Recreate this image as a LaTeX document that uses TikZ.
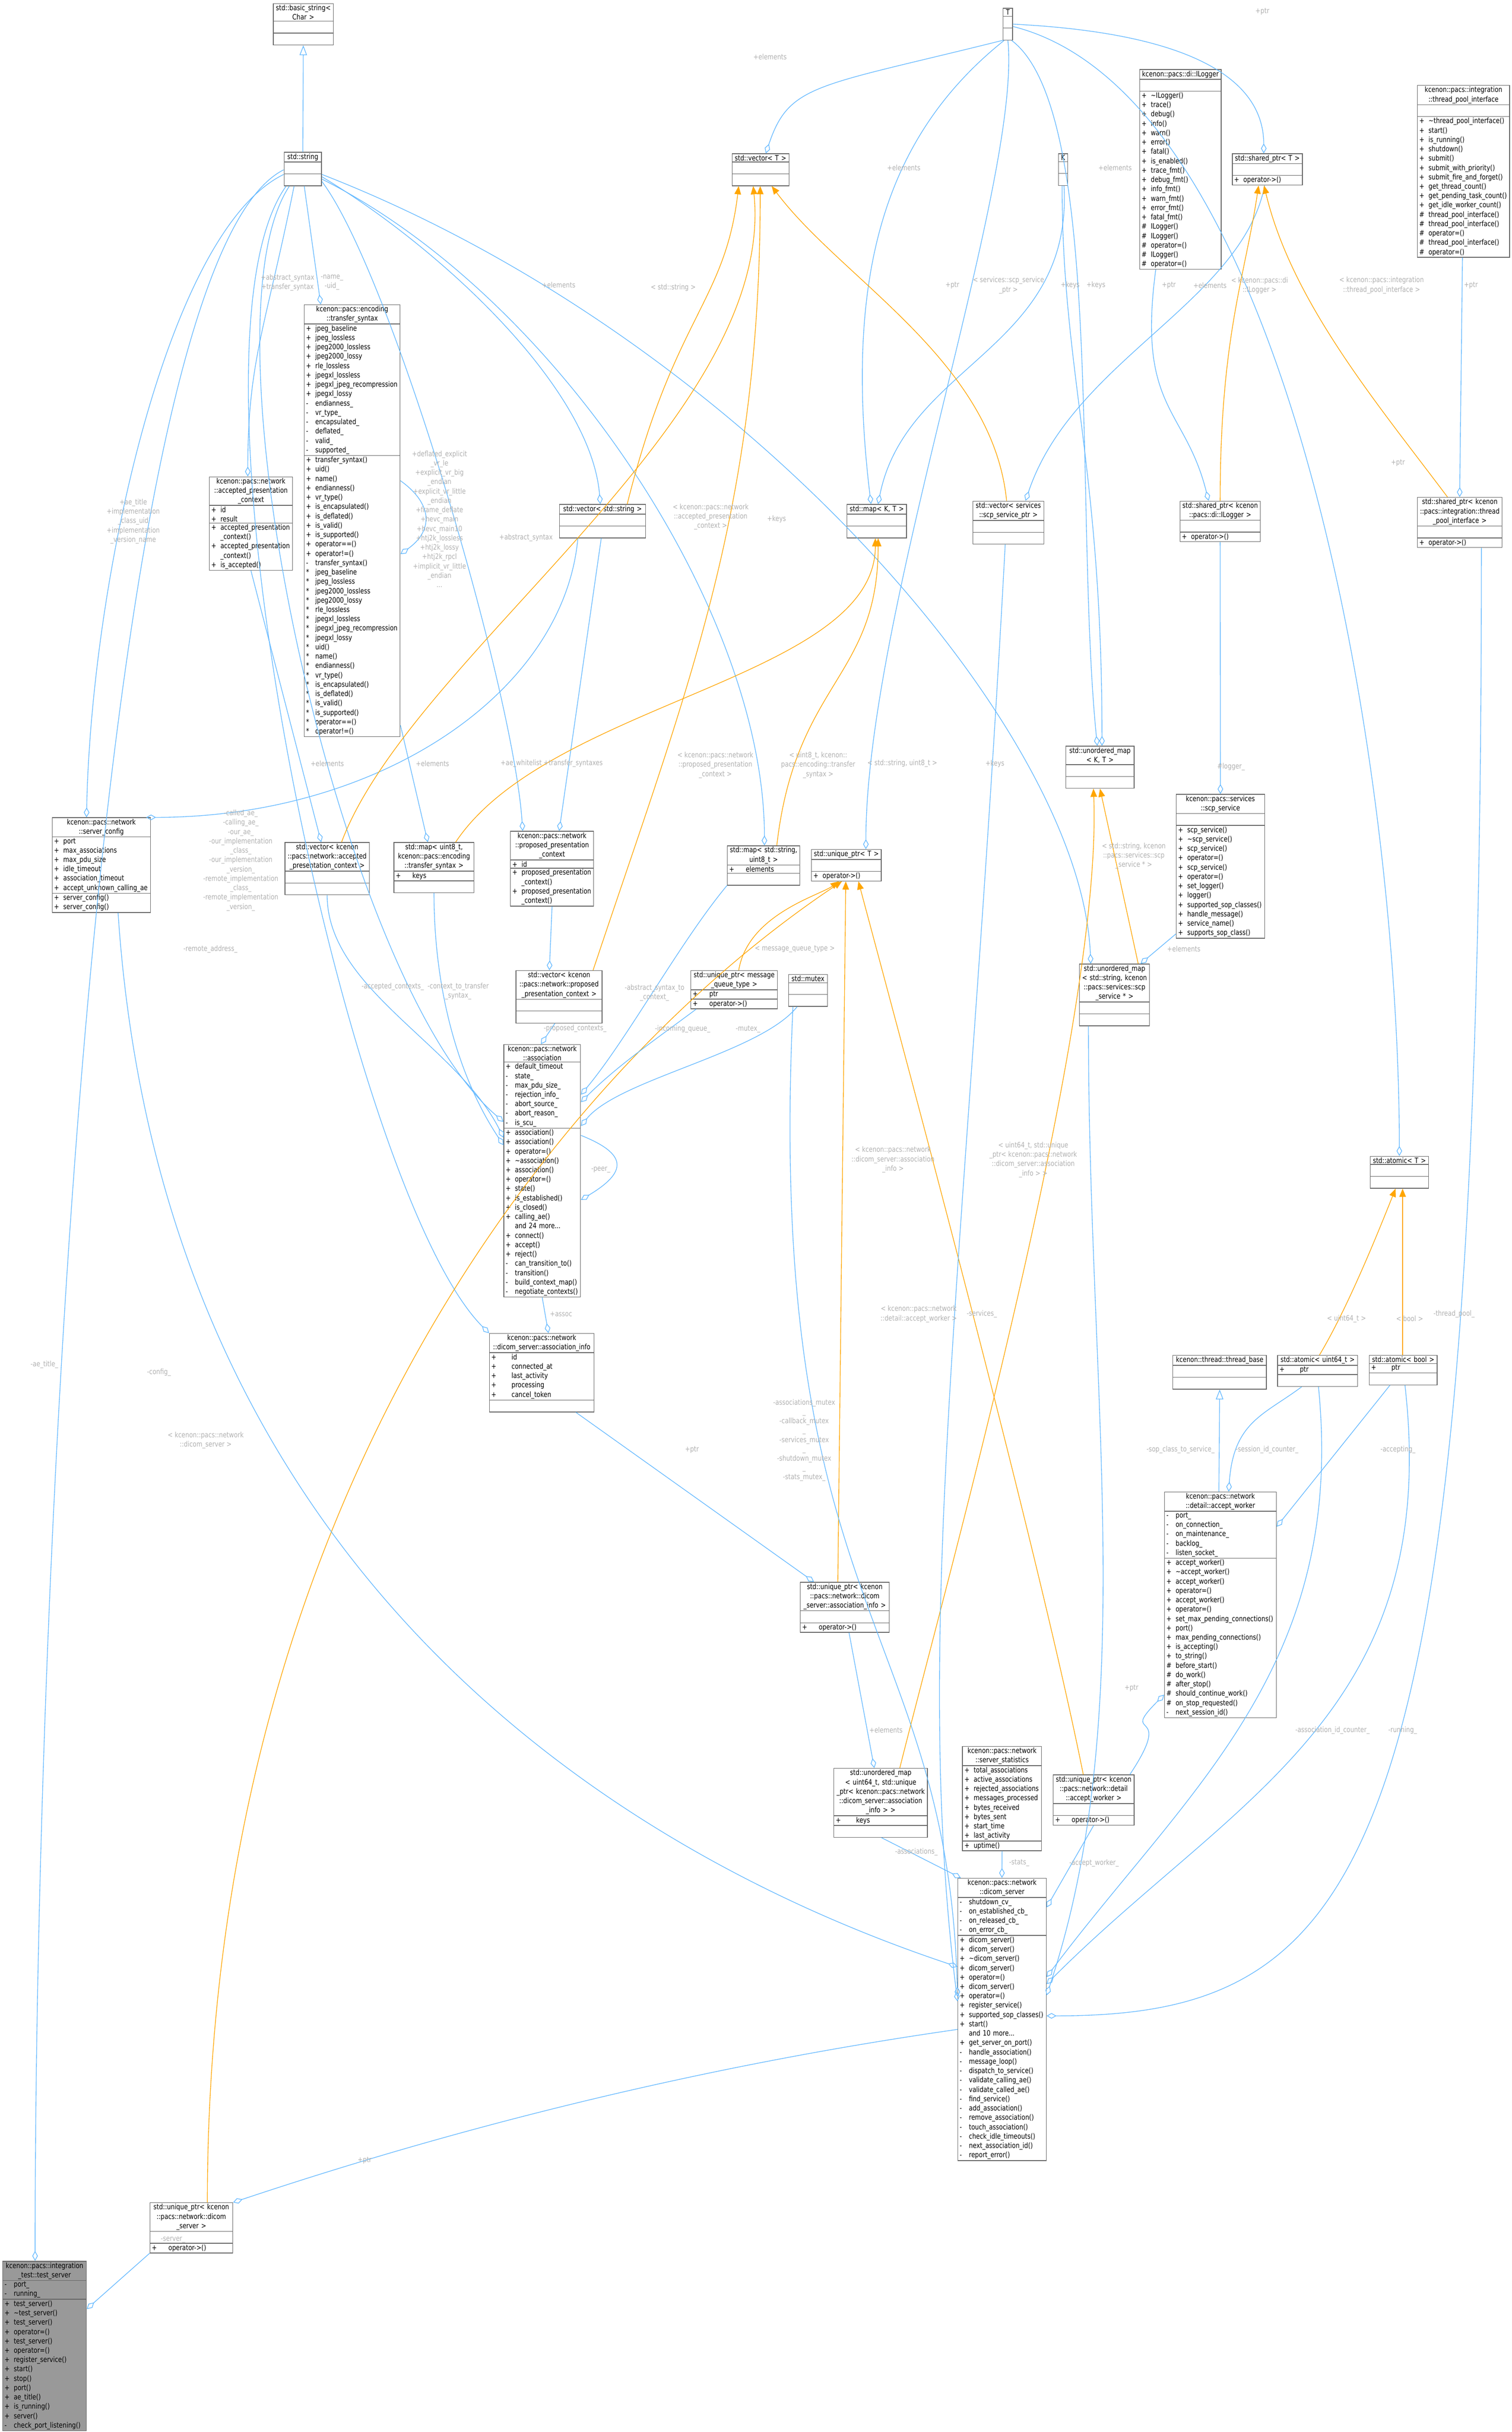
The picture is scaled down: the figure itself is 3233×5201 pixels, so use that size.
\documentclass[tikz,border=0pt]{standalone}
\usepackage{fontspec}
\setmainfont{DejaVu Sans}[FakeStretch=0.82]
\usetikzlibrary{shapes.multipart,arrows.meta,calc}
\definecolor{linkblue}{HTML}{63B8FF}
\definecolor{tmplorange}{HTML}{FFA500}
\definecolor{boxgray}{HTML}{666666}
\definecolor{lblgray}{HTML}{B0B0B0}
\definecolor{curfill}{HTML}{999999}
\newcommand\cfont{\fontsize{4.5}{5.69}\selectfont}
\newcommand\ttl[1]{{\centering #1\par}}
\newcommand\rw[2]{\makebox[1.25em][l]{#1}#2\par}
\newcommand\emp{\strut}
\tikzset{
  cls/.style={rectangle split, rectangle split parts=3, draw=boxgray, fill=white,
    anchor=north west, inner xsep=0.04cm, inner ysep=0.02cm, font=\cfont, line width=0.4pt},
  agg/.style={draw=linkblue, line width=0.4pt, -{Diamond[open,length=6pt,width=3.4pt]}},
  tmpl/.style={draw=tmplorange, line width=0.4pt, -{Triangle[length=5pt,width=4pt]}},
  inh/.style={draw=linkblue, line width=0.4pt, -{Triangle[open,length=6pt,width=4.5pt]}},
  lbl/.style={text=lblgray, font=\cfont, align=center, inner sep=0pt},
}
\begin{document}
\catcode`\_=12
\begin{tikzpicture}[x=0.01cm,y=-0.01cm]
\useasboundingbox (0,0) rectangle (3233,5201);

% classes
\node[cls, text width=1.20cm] (basicstr) at (584,7) {\ttl{std::basic_string<\\Char >}\nodepart{second}\emp\nodepart{third}\emp};
\node[cls, text width=0.72cm] (str) at (607,325) {\ttl{std::string}\nodepart{second}\emp\nodepart{third}\emp};
\node[cls, text width=0.14cm, inner xsep=0.03cm] (tT) at (2145,17) {\ttl{T}\nodepart{second}\emp\nodepart{third}\emp};
\node[cls, text width=0.14cm, inner xsep=0.03cm] (kK) at (2263,328) {\ttl{K}\nodepart{second}\emp\nodepart{third}\emp};
\node[cls, text width=1.14cm] (vecT) at (1565,328) {\ttl{std::vector< T >}\nodepart{second}\emp\nodepart{third}\emp};
\node[cls, text width=1.66cm] (ilogger) at (2437,148) {\ttl{kcenon::pacs::di::ILogger}\nodepart{second}\emp\nodepart{third}
  \rw{+}{\textasciitilde ILogger()}\rw{+}{trace()}\rw{+}{debug()}\rw{+}{info()}\rw{+}{warn()}\rw{+}{error()}\rw{+}{fatal()}
  \rw{+}{is_enabled()}\rw{+}{trace_fmt()}\rw{+}{debug_fmt()}\rw{+}{info_fmt()}\rw{+}{warn_fmt()}\rw{+}{error_fmt()}\rw{+}{fatal_fmt()}
  \rw{\#}{ILogger()}\rw{\#}{ILogger()}\rw{\#}{operator=()}\rw{\#}{ILogger()}\rw{\#}{operator=()}};
\node[cls, text width=1.42cm] (spT) at (2635,328) {\ttl{std::shared_ptr< T >}\nodepart{second}\emp\nodepart{third}\rw{+}{operator->()}};
\node[cls, text width=1.89cm] (tpi) at (3031,182) {\ttl{kcenon::pacs::integration\\::thread_pool_interface}\nodepart{second}\emp\nodepart{third}
  \rw{+}{\textasciitilde thread_pool_interface()}\rw{+}{start()}\rw{+}{is_running()}\rw{+}{shutdown()}\rw{+}{submit()}
  \rw{+}{submit_with_priority()}\rw{+}{submit_fire_and_forget()}\rw{+}{get_thread_count()}\rw{+}{get_pending_task_count()}
  \rw{+}{get_idle_worker_count()}\rw{\#}{thread_pool_interface()}\rw{\#}{thread_pool_interface()}\rw{\#}{operator=()}
  \rw{\#}{thread_pool_interface()}\rw{\#}{operator=()}};
\node[cls, text width=1.97cm] (tsyn) at (650,651) {\ttl{kcenon::pacs::encoding\\::transfer_syntax}\nodepart{second}
  \rw{+}{jpeg_baseline}\rw{+}{jpeg_lossless}\rw{+}{jpeg2000_lossless}\rw{+}{jpeg2000_lossy}\rw{+}{rle_lossless}
  \rw{+}{jpegxl_lossless}\rw{+}{jpegxl_jpeg_recompression}\rw{+}{jpegxl_lossy}\rw{-}{endianness_}\rw{-}{vr_type_}
  \rw{-}{encapsulated_}\rw{-}{deflated_}\rw{-}{valid_}\rw{-}{supported_}\nodepart{third}
  \rw{+}{transfer_syntax()}\rw{+}{uid()}\rw{+}{name()}\rw{+}{endianness()}\rw{+}{vr_type()}\rw{+}{is_encapsulated()}
  \rw{+}{is_deflated()}\rw{+}{is_valid()}\rw{+}{is_supported()}\rw{+}{operator==()}\rw{+}{operator!=()}\rw{-}{transfer_syntax()}
  \rw{*}{jpeg_baseline}\rw{*}{jpeg_lossless}\rw{*}{jpeg2000_lossless}\rw{*}{jpeg2000_lossy}\rw{*}{rle_lossless}
  \rw{*}{jpegxl_lossless}\rw{*}{jpegxl_jpeg_recompression}\rw{*}{jpegxl_lossy}\rw{*}{uid()}\rw{*}{name()}\rw{*}{endianness()}
  \rw{*}{vr_type()}\rw{*}{is_encapsulated()}\rw{*}{is_deflated()}\rw{*}{is_valid()}\rw{*}{is_supported()}\rw{*}{operator==()}\rw{*}{operator!=()}};
\node[cls, text width=1.70cm] (accpc) at (447,1019) {\ttl{kcenon::pacs::network\\::accepted_presentation\\_context}\nodepart{second}
  \rw{+}{id}\rw{+}{result}\nodepart{third}\rw{+}{accepted_presentation\\\hspace*{1.25em}_context()}\rw{+}{accepted_presentation\\\hspace*{1.25em}_context()}\rw{+}{is_accepted()}};
\node[cls, text width=1.76cm] (vecstr) at (1196,1078) {\ttl{std::vector< std::string >}\nodepart{second}\emp\nodepart{third}\emp};
\node[cls, text width=1.19cm] (mapKT) at (1811,1078) {\ttl{std::map< K, T >}\nodepart{second}\emp\nodepart{third}\emp};
\node[cls, text width=1.44cm] (vecscp) at (2080,1071) {\ttl{std::vector< services\\::scp_service_ptr >}\nodepart{second}\emp\nodepart{third}\emp};
\node[cls, text width=1.64cm] (splog) at (2523,1071) {\ttl{std::shared_ptr< kcenon\\::pacs::di::ILogger >}\nodepart{second}\emp\nodepart{third}\rw{+}{operator->()}};
\node[cls, text width=1.73cm] (sptpi) at (3031,1063) {\ttl{std::shared_ptr< kcenon\\::pacs::integration::thread\\_pool_interface >}\nodepart{second}\emp\nodepart{third}\rw{+}{operator->()}};
\node[cls, text width=1.38cm] (umapKT) at (2279,1595) {\ttl{std::unordered_map\\< K, T >}\nodepart{second}\emp\nodepart{third}\emp};
\node[cls, text width=1.81cm] (scp) at (2515,1698) {\ttl{kcenon::pacs::services\\::scp_service}\nodepart{second}\emp\nodepart{third}
  \rw{+}{scp_service()}\rw{+}{\textasciitilde scp_service()}\rw{+}{scp_service()}\rw{+}{operator=()}\rw{+}{scp_service()}\rw{+}{operator=()}
  \rw{+}{set_logger()}\rw{+}{logger()}\rw{+}{supported_sop_classes()}\rw{+}{handle_message()}\rw{+}{service_name()}\rw{+}{supports_sop_class()}};
\node[cls, text width=2.02cm] (srvcfg) at (111,1748) {\ttl{kcenon::pacs::network\\::server_config}\nodepart{second}
  \rw{+}{port}\rw{+}{max_associations}\rw{+}{max_pdu_size}\rw{+}{idle_timeout}\rw{+}{association_timeout}\rw{+}{accept_unknown_calling_ae}\nodepart{third}
  \rw{+}{server_config()}\rw{+}{server_config()}};
\node[cls, text width=1.72cm] (vecacc) at (609,1801) {\ttl{std::vector< kcenon\\::pacs::network::accepted\\_presentation_context >}\nodepart{second}\emp\nodepart{third}\emp};
\node[cls, text width=1.63cm] (mapts) at (842,1801) {\ttl{std::map< uint8_t,\\kcenon::pacs::encoding\\::transfer_syntax >}\nodepart{second}\rw{+}{\hspace*{1em}keys}\nodepart{third}\emp};
\node[cls, text width=1.70cm] (proppc) at (1091,1777) {\ttl{kcenon::pacs::network\\::proposed_presentation\\_context}\nodepart{second}
  \rw{+}{id}\nodepart{third}\rw{+}{proposed_presentation\\\hspace*{1.25em}_context()}\rw{+}{proposed_presentation\\\hspace*{1.25em}_context()}};
\node[cls, text width=1.47cm] (mapstr) at (1555,1808) {\ttl{std::map< std::string,\\uint8_t >}\nodepart{second}\rw{+}{\hspace*{1em}elements}\nodepart{third}\emp};
\node[cls, text width=1.41cm] (uptrT) at (1735,1816) {\ttl{std::unique_ptr< T >}\nodepart{second}\emp\nodepart{third}\rw{+}{operator->()}};
\node[cls, text width=1.76cm] (vecprop) at (1103,2075) {\ttl{std::vector< kcenon\\::pacs::network::proposed\\_presentation_context >}\nodepart{second}\emp\nodepart{third}\emp};
\node[cls, text width=1.77cm] (uptrmq) at (1477,2075) {\ttl{std::unique_ptr< message\\_queue_type >}\nodepart{second}\rw{+}{\hspace*{1em}ptr}\nodepart{third}\rw{+}{\hspace*{1em}operator->()}};
\node[cls, text width=0.75cm] (mtx) at (1686,2083) {\ttl{std::mutex}\nodepart{second}\emp\nodepart{third}\emp};
\node[cls, text width=1.42cm] (umapscp) at (2308,2061) {\ttl{std::unordered_map\\< std::string, kcenon\\::pacs::services::scp\\_service * >}\nodepart{second}\emp\nodepart{third}\emp};
\node[cls, text width=1.56cm] (assoc) at (1077,2233) {\ttl{kcenon::pacs::network\\::association}\nodepart{second}
  \rw{+}{default_timeout}\rw{-}{state_}\rw{-}{max_pdu_size_}\rw{-}{rejection_info_}\rw{-}{abort_source_}\rw{-}{abort_reason_}\rw{-}{is_scu_}\nodepart{third}
  \rw{+}{association()}\rw{+}{association()}\rw{+}{operator=()}\rw{+}{\textasciitilde association()}\rw{+}{association()}\rw{+}{operator=()}
  \rw{+}{state()}\rw{+}{is_established()}\rw{+}{is_closed()}\rw{+}{calling_ae()}\rw{}{and 24 more...}\rw{+}{connect()}\rw{+}{accept()}
  \rw{+}{reject()}\rw{-}{can_transition_to()}\rw{-}{transition()}\rw{-}{build_context_map()}\rw{-}{negotiate_contexts()}};
\node[cls, text width=1.17cm] (atomT) at (2930,2472) {\ttl{std::atomic< T >}\nodepart{second}\emp\nodepart{third}\emp};
\node[cls, text width=2.16cm] (ainfo) at (1046,2851) {\ttl{kcenon::pacs::network\\::dicom_server::association_info}\nodepart{second}
  \rw{+}{\hspace*{1.5em}id}\rw{+}{\hspace*{1.5em}connected_at}\rw{+}{\hspace*{1.5em}last_activity}\rw{+}{\hspace*{1.5em}processing}\rw{+}{\hspace*{1.5em}cancel_token}\nodepart{third}\emp};
\node[cls, text width=1.92cm] (thrbase) at (2508,2898) {\ttl{kcenon::thread::thread_base}\nodepart{second}\emp\nodepart{third}\emp};
\node[cls, text width=1.63cm] (atomu) at (2732,2898) {\ttl{std::atomic< uint64_t >}\nodepart{second}\rw{+}{\hspace*{1.5em}ptr}\nodepart{third}\emp};
\node[cls, text width=1.37cm] (atomb) at (2928,2898) {\ttl{std::atomic< bool >}\nodepart{second}\rw{+}{\hspace*{1.5em}ptr}\nodepart{third}\emp};
\node[cls, text width=2.31cm] (acceptw) at (2490,3190) {\ttl{kcenon::pacs::network\\::detail::accept_worker}\nodepart{second}
  \rw{-}{port_}\rw{-}{on_connection_}\rw{-}{on_maintenance_}\rw{-}{backlog_}\rw{-}{listen_socket_}\nodepart{third}
  \rw{+}{accept_worker()}\rw{+}{\textasciitilde accept_worker()}\rw{+}{accept_worker()}\rw{+}{operator=()}\rw{+}{accept_worker()}\rw{+}{operator=()}
  \rw{+}{set_max_pending_connections()}\rw{+}{port()}\rw{+}{max_pending_connections()}\rw{+}{is_accepting()}\rw{+}{to_string()}
  \rw{\#}{before_start()}\rw{\#}{do_work()}\rw{\#}{after_stop()}\rw{\#}{should_continue_work()}\rw{\#}{on_stop_requested()}\rw{-}{next_session_id()}};
\node[cls, text width=1.82cm] (uptrai) at (1711,3383) {\ttl{std::unique_ptr< kcenon\\::pacs::network::dicom\\_server::association_info >}\nodepart{second}\emp\nodepart{third}\rw{+}{\hspace*{1em}operator->()}};
\node[cls, text width=1.61cm] (stats) at (2058,3734) {\ttl{kcenon::pacs::network\\::server_statistics}\nodepart{second}
  \rw{+}{total_associations}\rw{+}{active_associations}\rw{+}{rejected_associations}\rw{+}{messages_processed}\rw{+}{bytes_received}
  \rw{+}{bytes_sent}\rw{+}{start_time}\rw{+}{last_activity}\nodepart{third}\rw{+}{uptime()}};
\node[cls, text width=1.92cm] (umapai) at (1783,3781) {\ttl{std::unordered_map\\< uint64_t, std::unique\\_ptr< kcenon::pacs::network\\::dicom_server::association\\_info > >}\nodepart{second}\rw{+}{\hspace*{1.5em}keys}\nodepart{third}\emp};
\node[cls, text width=1.65cm] (uptraw) at (2252,3795) {\ttl{std::unique_ptr< kcenon\\::pacs::network::detail\\::accept_worker >}\nodepart{second}\emp\nodepart{third}\rw{+}{\hspace*{1em}operator->()}};
\node[cls, text width=1.81cm] (dsrv) at (2048,4016) {\ttl{kcenon::pacs::network\\::dicom_server}\nodepart{second}
  \rw{-}{shutdown_cv_}\rw{-}{on_established_cb_}\rw{-}{on_released_cb_}\rw{-}{on_error_cb_}\nodepart{third}
  \rw{+}{dicom_server()}\rw{+}{dicom_server()}\rw{+}{\textasciitilde dicom_server()}\rw{+}{dicom_server()}\rw{+}{operator=()}\rw{+}{dicom_server()}
  \rw{+}{operator=()}\rw{+}{register_service()}\rw{+}{supported_sop_classes()}\rw{+}{start()}\rw{}{and 10 more...}\rw{+}{get_server_on_port()}
  \rw{-}{handle_association()}\rw{-}{message_loop()}\rw{-}{dispatch_to_service()}\rw{-}{validate_calling_ae()}\rw{-}{validate_called_ae()}
  \rw{-}{find_service()}\rw{-}{add_association()}\rw{-}{remove_association()}\rw{-}{touch_association()}\rw{-}{check_idle_timeouts()}
  \rw{-}{next_association_id()}\rw{-}{report_error()}};
\node[cls, text width=1.69cm] (uptrds) at (320,4710) {\ttl{std::unique_ptr< kcenon\\::pacs::network::dicom\\_server >}\nodepart{second}\emp\nodepart{third}\rw{+}{\hspace*{1em}operator->()}};
\node[cls, text width=1.71cm, fill=curfill] (tsrv) at (5,4835) {\ttl{kcenon::pacs::integration\\_test::test_server}\nodepart{second}
  \rw{-}{port_}\rw{-}{running_}\nodepart{third}
  \rw{+}{test_server()}\rw{+}{\textasciitilde test_server()}\rw{+}{test_server()}\rw{+}{operator=()}\rw{+}{test_server()}\rw{+}{operator=()}
  \rw{+}{register_service()}\rw{+}{start()}\rw{+}{stop()}\rw{+}{port()}\rw{+}{ae_title()}\rw{+}{is_running()}\rw{+}{server()}\rw{-}{check_port_listening()}};

% inheritance
\draw[inh] (str.north) -- (basicstr.south);
\draw[inh] ($(acceptw.north west)+(117,0)$) -- (thrbase.south);

% members of std::string
\draw[agg] ($(str.south)+(3,0)$) -- ($(tsyn.north west)+(36,0)$);
\draw[agg] ($(str.south west)+(22,0)$) .. controls +(-60,300) and +(0,-250) .. ($(accpc.north west)+(83,0)$);
\draw[agg] ($(str.south west)+(0,-25)$) .. controls +(-250,120) and +(10,-500) .. ($(srvcfg.north west)+(74,0)$);
\draw[agg] ($(str.south west)+(0,-35)$) .. controls +(-400,200) and +(0,-1500) .. ($(tsrv.north west)+(70,0)$);
\draw[agg] ($(str.south west)+(12,0)$) .. controls +(-200,300) and +(-350,-300) .. ($(assoc.north west)+(0,166)$);
\draw[agg] ($(str.south west)+(5,0)$) .. controls +(-250,350) and +(-300,-300) .. (ainfo.north west);
\draw[agg] ($(str.south east)+(0,-20)$) .. controls +(250,150) and +(-20,-250) .. ($(vecstr.north west)+(88,0)$);
\draw[agg] ($(str.south east)+(0,-10)$) .. controls +(150,200) and +(-20,-300) .. ($(proppc.north west)+(27,0)$);
\draw[agg] ($(str.south east)+(0,-15)$) .. controls +(500,250) and +(0,-500) .. ($(mapstr.north west)+(80,0)$);
\draw[agg] ($(str.south east)+(0,-25)$) .. controls +(900,350) and +(-20,-500) .. ($(umapscp.north west)+(25,0)$);
\draw[agg] ($(vecstr.south west)+(40,0)$) .. controls +(-30,330) and +(500,0) .. ($(srvcfg.north east)+(-10,0)$);
\draw[agg] ($(vecstr.south west)+(90,0)$) -- ($(proppc.north west)+(105,0)$);
\draw[agg] ($(tsyn.north east)+(0,377)$) .. controls +(70,50) and +(70,-50) .. ($(tsyn.north east)+(0,534)$);
\draw[agg] (accpc.south) -- ($(vecacc.north west)+(78,0)$);
\draw[agg] ($(tsyn.south east)+(0,-25)$) -- ($(mapts.north west)+(73,0)$);
\draw[agg] (proppc.south) -- ($(vecprop.north west)+(72,0)$);

% template parameters
\draw[agg] (tT.south west) .. controls +(-400,100) and +(50,-150) .. ($(vecT.north west)+(73,0)$);
\draw[agg] ($(tT.south west)+(3,0)$) .. controls +(-250,200) and +(-60,-500) .. ($(mapKT.north west)+(52,0)$);
\draw[agg] ($(tT.south east)+(-3,0)$) .. controls +(200,150) and +(-50,-500) .. ($(umapKT.north west)+(68,0)$);
\draw[agg] (tT.south) .. controls +(30,300) and +(0,-500) .. ($(uptrT.north west)+(117,0)$);
\draw[agg] (tT.east) .. controls +(400,20) and +(0,-150) .. ($(spT.north west)+(68,0)$);
\draw[agg] ($(tT.east)+(0,5)$) .. controls +(600,150) and +(0,-800) .. ($(atomT.north west)+(63,0)$);
\draw[agg] ($(kK.south)+(2,0)$) .. controls +(20,350) and +(60,-300) .. ($(mapKT.north west)+(67,0)$);
\draw[agg] ($(kK.south)+(-2,0)$) .. controls +(0,400) and +(0,-600) .. ($(umapKT.north west)+(78,0)$);
\draw[agg] ($(ilogger.south west)+(35,0)$) .. controls +(-40,300) and +(-50,-200) .. ($(splog.north west)+(62,0)$);
\draw[agg] ($(tpi.south west)+(97,0)$) -- ($(sptpi.north west)+(91,0)$);
\draw[agg] ($(spT.south west)+(70,0)$) .. controls +(-50,250) and +(100,-300) .. ($(vecscp.north east)+(-40,0)$);
\draw[agg] (splog.south) -- (scp.north);
\draw[agg] ($(scp.south west)+(0,-10)$) -- ($(umapscp.north east)+(-20,0)$);

% template instances
\draw[tmpl] ($(vecacc.north east)+(-60,0)$) .. controls +(150,-400) and +(50,500) .. ($(vecT.south west)+(46,0)$);
\draw[tmpl] ($(vecstr.north east)+(-40,0)$) .. controls +(100,-400) and +(-30,250) .. ($(vecT.south west)+(15,0)$);
\draw[tmpl] ($(vecprop.north east)+(-20,0)$) .. controls +(200,-600) and +(0,700) .. ($(vecT.south west)+(61,0)$);
\draw[tmpl] ($(vecscp.north west)+(73,0)$) .. controls +(-30,-300) and +(150,200) .. ($(vecT.south east)+(-38,0)$);
\draw[tmpl] ($(mapts.north east)+(-40,0)$) .. controls +(200,-300) and +(0,300) .. ($(mapKT.south)+(-3,0)$);
\draw[tmpl] ($(mapstr.north east)+(-50,0)$) .. controls +(40,-350) and +(0,300) .. ($(mapKT.south)+(3,0)$);
\draw[tmpl] (splog.north) .. controls +(0,-350) and +(-30,200) .. ($(spT.south west)+(57,0)$);
\draw[tmpl] ($(sptpi.north west)+(65,0)$) .. controls +(-150,-200) and +(60,250) .. ($(spT.south east)+(-83,0)$);
\draw[tmpl] ($(umapscp.north east)+(-25,0)$) -- ($(umapKT.south)+(0,0)$);
\draw[tmpl] ($(umapai.north east)+(-60,0)$) .. controls +(100,-400) and +(20,500) .. ($(umapKT.south)+(-14,0)$);
\draw[tmpl] ($(uptrmq.north west)+(103,0)$) .. controls +(20,-120) and +(-40,30) .. ($(uptrT.south west)+(59,0)$);
\draw[tmpl] ($(uptrai.north west)+(81,0)$) -- ($(uptrT.south west)+(74,0)$);
\draw[tmpl] ($(uptraw.north west)+(65,0)$) .. controls +(-100,-500) and +(80,300) .. ($(uptrT.south west)+(101,0)$);
\draw[tmpl] ($(uptrds.north east)+(-55,0)$) .. controls +(0,-1500) and +(-600,400) .. ($(uptrT.south west)+(66,0)$);
\draw[tmpl] ($(atomu.north west)+(90,0)$) .. controls +(60,-100) and +(-40,100) .. ($(atomT.south west)+(55,0)$);
\draw[tmpl] ($(atomb.north west)+(72,0)$) -- ($(atomT.south west)+(70,0)$);

% members of association
\draw[agg] (mapstr.south west) .. controls +(-100,120) and +(100,-120) .. ($(assoc.north east)+(0,108)$);
\draw[agg] ($(uptrmq.south west)+(12,0)$) .. controls +(-80,60) and +(80,-80) .. ($(assoc.north east)+(0,124)$);
\draw[agg] ($(mtx.south west)+(19,0)$) .. controls +(-80,100) and +(80,-100) .. ($(assoc.north east)+(0,175)$);
\draw[agg] (vecacc.south) .. controls +(0,200) and +(-100,-200) .. ($(assoc.north west)+(0,200)$);
\draw[agg] (mapts.south) .. controls +(0,200) and +(-100,-150) .. ($(assoc.north west)+(0,216)$);
\draw[agg] ($(vecprop.south west)+(84,0)$) -- ($(assoc.north west)+(80,0)$);
\draw[agg] ($(assoc.north east)+(0,195)$) .. controls +(100,40) and +(100,-60) .. ($(assoc.north east)+(0,333)$);
\draw[agg] (assoc.south) -- ($(ainfo.north west)+(127,0)$);

% members of dicom_server
\draw[agg] ($(ainfo.south east)+(-40,0)$) -- ($(uptrai.north west)+(30,0)$);
\draw[agg] ($(uptrai.south west)+(105,0)$) -- ($(umapai.north west)+(87,0)$);
\draw[agg] ($(umapai.south west)+(102,0)$) -- ($(dsrv.north west)+(7,0)$);
\draw[agg] (stats.south) -- ($(dsrv.north west)+(95,0)$);
\draw[agg] ($(uptraw.north east)+(-10,0)$) .. controls +(100,-150) and +(-100,100) .. ($(acceptw.south west)+(0,-50)$);
\draw[agg] (uptraw.south) -- ($(dsrv.north east)+(0,63)$);
\draw[agg] ($(atomu.south west)+(52,0)$) .. controls +(-80,60) and +(10,-150) .. ($(acceptw.north west)+(138,0)$);
\draw[agg] ($(atomb.south west)+(45,0)$) -- ($(acceptw.north east)+(0,75)$);
\draw[agg] ($(atomu.south west)+(88,0)$) .. controls +(60,600) and +(300,-400) .. ($(dsrv.north east)+(0,212)$);
\draw[agg] ($(atomb.south west)+(77,0)$) .. controls +(80,700) and +(400,-400) .. ($(dsrv.north east)+(0,227)$);
\draw[agg] ($(umapscp.south west)+(20,0)$) .. controls +(0,800) and +(200,-600) .. ($(dsrv.north east)+(0,251)$);
\draw[agg] ($(sptpi.south east)+(-45,0)$) .. controls +(0,2800) and +(700,0) .. ($(dsrv.north east)+(0,295)$);
\draw[agg] ($(vecscp.south west)+(70,0)$) .. controls +(-80,1500) and +(-100,-800) .. ($(dsrv.north west)+(0,264)$);
\draw[agg] ($(mtx.south west)+(10,0)$) .. controls +(-60,1300) and +(-20,-800) .. ($(dsrv.north west)+(0,254)$);
\draw[agg] ($(srvcfg.south east)+(-70,0)$) .. controls +(100,1500) and +(-600,-200) .. ($(dsrv.north west)+(0,190)$);
\draw[agg] ($(dsrv.north west)+(0,324)$) .. controls +(-700,100) and +(300,-100) .. (uptrds.north east);
\draw[agg] (uptrds.south west) -- ($(tsrv.north east)+(0,103)$);

% labels
\node[lbl] (l01) at (615,604) {+abstract_syntax\\+transfer_syntax};
\node[lbl] (l02) at (710,604) {-name_\\-uid_};
\node[lbl] (l03) at (285,1115) {+ae_title\\+implementation\\_class_uid\\+implementation\\_version_name};
\node[lbl] (l04) at (940,1110) {+deflated_explicit\\_vr_le\\+explicit_vr_big\\_endian\\+explicit_vr_little\\_endian\\+frame_deflate\\+hevc_main\\+hevc_main10\\+htj2k_lossless\\+htj2k_lossy\\+htj2k_rpcl\\+implicit_vr_little\\_endian\\...};
\node[lbl] (l05) at (1125,1150) {+abstract_syntax};
\node[lbl] (l06) at (1195,609) {+elements};
\node[lbl] (l07) at (700,1633) {+elements};
\node[lbl] (l08) at (925,1633) {+elements};
\node[lbl] (l09) at (1180,1633) {+ae_whitelist +transfer_syntaxes};
\node[lbl] (l10) at (515,1840) {-called_ae_\\-calling_ae_\\-our_ae_\\-our_implementation\\_class_\\-our_implementation\\_version_\\-remote_implementation\\_class_\\-remote_implementation\\_version_};
\node[lbl] (l11) at (1440,615) {< std::string >};
\node[lbl] (l12) at (1520,1105) {< kcenon::pacs::network\\::accepted_presentation\\_context >};
\node[lbl] (l13) at (1661,1110) {+keys};
\node[lbl] (l14) at (1933,359) {+elements};
\node[lbl] (l15) at (1647,122) {+elements};
\node[lbl] (l16) at (2037,610) {+ptr};
\node[lbl] (l17) at (2157,610) {< services::scp_service\\_ptr >};
\node[lbl] (l18) at (2289,610) {+keys};
\node[lbl] (l19) at (2344,610) {+keys};
\node[lbl] (l20) at (2385,359) {+elements};
\node[lbl] (l21) at (2500,610) {+ptr};
\node[lbl] (l22) at (2588,610) {+elements};
\node[lbl] (l23) at (2694,610) {< kcenon::pacs::di\\::ILogger >};
\node[lbl] (l24) at (2955,610) {< kcenon::pacs::integration\\::thread_pool_interface >};
\node[lbl] (l25) at (3146,610) {+ptr};
\node[lbl] (l26) at (2700,25) {+ptr};
\node[lbl] (l27) at (1530,1636) {< kcenon::pacs::network\\::proposed_presentation\\_context >};
\node[lbl] (l28) at (1750,1636) {< uint8_t, kcenon::\\pacs::encoding::transfer\\_syntax >};
\node[lbl] (l29) at (1930,1633) {< std::string, uint8_t >};
\node[lbl] (l30) at (2128,1633) {+keys};
\node[lbl] (l31) at (2633,1640) {\#logger_};
\node[lbl] (l32) at (2425,1830) {< std::string, kcenon\\::pacs::services::scp\\_service * >};
\node[lbl] (l33) at (2532,2029) {+elements};
\node[lbl] (l34) at (1700,2029) {< message_queue_type >};
\node[lbl] (l35) at (1400,2123) {-abstract_syntax_to\\_context_};
\node[lbl] (l36) at (1460,2201) {-incoming_queue_};
\node[lbl] (l37) at (1600,2201) {-mutex_};
\node[lbl] (l38) at (840,2110) {-accepted_contexts_};
\node[lbl] (l39) at (980,2120) {-context_to_transfer\\_syntax_};
\node[lbl] (l40) at (1230,2200) {-proposed_contexts_};
\node[lbl] (l41) at (1285,2502) {-peer_};
\node[lbl] (l42) at (1200,2810) {+assoc};
\node[lbl] (l43) at (450,2030) {-remote_address_};
\node[lbl] (l44) at (1910,2480) {< kcenon::pacs::network\\::dicom_server::association\\_info >};
\node[lbl] (l45) at (2210,2480) {< uint64_t, std::unique\\_ptr< kcenon::pacs::network\\::dicom_server::association\\_info > >};
\node[lbl] (l46) at (1965,2810) {< kcenon::pacs::network\\::detail::accept_worker >};
\node[lbl] (l47) at (2100,2810) {-services_};
\node[lbl] (l48) at (1720,3080) {-associations_mutex\\_\\-callback_mutex\\_\\-services_mutex\\_\\-shutdown_mutex\\_\\-stats_mutex_};
\node[lbl] (l49) at (1480,3100) {+ptr};
\node[lbl] (l50) at (2525,3100) {-sop_class_to_service_};
\node[lbl] (l51) at (2710,3100) {-session_id_counter_};
\node[lbl] (l52) at (2990,3100) {-accepting_};
\node[lbl] (l53) at (2880,2820) {< uint64_t >};
\node[lbl] (l54) at (3015,2820) {< bool >};
\node[lbl] (l55) at (3110,2810) {-thread_pool_};
\node[lbl] (l56) at (1895,3700) {+elements};
\node[lbl] (l57) at (2420,3610) {+ptr};
\node[lbl] (l58) at (2850,3700) {-association_id_counter_};
\node[lbl] (l59) at (3000,3700) {-running_};
\node[lbl] (l60) at (1960,3960) {-associations_};
\node[lbl] (l61) at (2180,3984) {-stats_};
\node[lbl] (l62) at (2340,3984) {-accept_worker_};
\node[lbl] (l63) at (340,2935) {-config_};
\node[lbl] (l64) at (440,3080) {< kcenon::pacs::network\\::dicom_server >};
\node[lbl] (l65) at (95,2918) {-ae_title_};
\node[lbl] (l66) at (780,4620) {+ptr};
\node[lbl] (l67) at (370,4790) {-server_};
\node[lbl] (l68) at (2990,990) {+ptr};
\end{tikzpicture}
\end{document}
